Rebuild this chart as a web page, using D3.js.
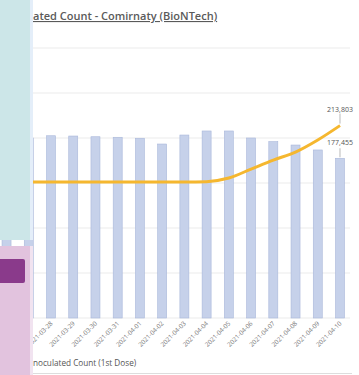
<!DOCTYPE html>
<html><head><meta charset="utf-8">
<script src="https://cdn.jsdelivr.net/npm/d3@7"></script>
<style>
html,body{margin:0;padding:0;background:#fff;overflow:hidden;}
svg{display:block;font-family:"Open Sans",sans-serif;}
</style></head>
<body>
<svg id="c" width="359" height="375"></svg>
<script>
// Data
const categories = ["2021-03-26","2021-03-27","2021-03-28","2021-03-29","2021-03-30","2021-03-31","2021-04-01","2021-04-02","2021-04-03","2021-04-04","2021-04-05","2021-04-06","2021-04-07","2021-04-08","2021-04-09","2021-04-10"];
const visibleLabels = ["2021-03-28","2021-03-29","2021-03-30","2021-03-31","2021-04-01","2021-04-02","2021-04-03","2021-04-04","2021-04-05","2021-04-06","2021-04-07","2021-04-08","2021-04-09","2021-04-10"];
const barValues = [199000,200000,202500,202200,201400,200800,199700,193300,203300,207800,207800,200000,195900,192200,186700,177455];
const lineValues = [151000,151000,151000,151000,151000,151000,151000,151000,151000,151000,151500,155500,165500,175500,184400,197800,213803];
const lineCategories = ["2021-03-25"].concat(categories);
const yTicks = [0,50000,100000,150000,200000,250000,300000];
const titleText = "ated Count - Comirnaty (BioNTech)";
const axisTitle = "noculated Count (1st Dose)";

const svg = d3.select("#c");
const step = 22.23;
const x = d3.scaleBand().domain(categories)
  .range([51 - step*2.5, 340 + step/2]).paddingInner(0.595).paddingOuter(0.2975);
const cx = d => x(d) + x.bandwidth()/2;
const y = d3.scaleLinear().domain([0,300000]).range([318,48]);

// gridlines
svg.append("g").selectAll("line").data(yTicks).join("line")
  .attr("x1",0).attr("x2",350)
  .attr("y1",d=>y(d)).attr("y2",d=>y(d))
  .attr("stroke","#ebebeb").attr("stroke-width",1);

// bars
svg.append("g").selectAll("rect").data(categories).join("rect")
  .attr("x",d=>x(d)).attr("width",x.bandwidth())
  .attr("y",(d,i)=>y(barValues[i]))
  .attr("height",(d,i)=>y(0)-y(barValues[i]))
  .attr("fill","#c6d1ea").attr("stroke","#a9b7da").attr("stroke-width",0.6);

// line
const lx = d => d === "2021-03-25" ? cx(categories[0]) - step : cx(d);
const line = d3.line().x((d,i)=>lx(lineCategories[i])).y(d=>y(d)).curve(d3.curveMonotoneX);
svg.append("path").datum(lineValues).attr("d",line)
  .attr("fill","none").attr("stroke","#f5b72f").attr("stroke-width",3);

// data labels
const lastCat = categories[categories.length-1];
const lastLine = lineValues[lineValues.length-1];
const lastBar = barValues[barValues.length-1];
const fmt = d3.format(",");
svg.append("line").attr("x1",cx(lastCat)).attr("x2",cx(lastCat))
  .attr("y1",y(lastLine)-2).attr("y2",y(lastLine)-12).attr("stroke","#999").attr("stroke-width",0.7);
svg.append("text").attr("x",cx(lastCat)).attr("y",y(lastLine)-14)
  .attr("text-anchor","middle").attr("font-size",7).attr("fill","#555").text(fmt(lastLine));
svg.append("line").attr("x1",cx(lastCat)).attr("x2",cx(lastCat))
  .attr("y1",y(lastBar)-1).attr("y2",y(lastBar)-10).attr("stroke","#999").attr("stroke-width",0.7);
svg.append("text").attr("x",cx(lastCat)).attr("y",y(lastBar)-13)
  .attr("text-anchor","middle").attr("font-size",7).attr("fill","#555").text(fmt(lastBar));

// x labels
svg.append("g").selectAll("text").data(visibleLabels).join("text")
  .attr("transform",d=>`translate(${cx(d)+2},${324}) rotate(-45)`)
  .attr("text-anchor","end").attr("font-size",6.3).attr("fill","#777").text(d=>d);

// title
svg.append("text").attr("x",33).attr("y",20).attr("font-size",11).attr("font-weight",600)
  .attr("fill","#5a5a5a").attr("text-decoration","underline").text(titleText);

// axis title
svg.append("text").attr("x",33).attr("y",366).attr("font-size",8.2).attr("fill","#555").text(axisTitle);
svg.append("line").attr("x1",33).attr("x2",352).attr("y1",373.5).attr("y2",373.5).attr("stroke","#ddd");

// left panels
svg.append("rect").attr("x",0).attr("y",0).attr("width",30).attr("height",240).attr("fill","#cce6e8");
svg.append("rect").attr("x",30).attr("y",0).attr("width",3).attr("height",240).attr("fill","#e4eef9");
svg.append("rect").attr("x",0).attr("y",246).attr("width",30).attr("height",129).attr("fill","#e2c3de");
svg.append("rect").attr("x",30).attr("y",246).attr("width",3).attr("height",129).attr("fill","#f1e3f0");
svg.append("rect").attr("x",-3).attr("y",259).attr("width",28).attr("height",24).attr("rx",2).attr("fill","#8a3a8b");
</script>
</body></html>
